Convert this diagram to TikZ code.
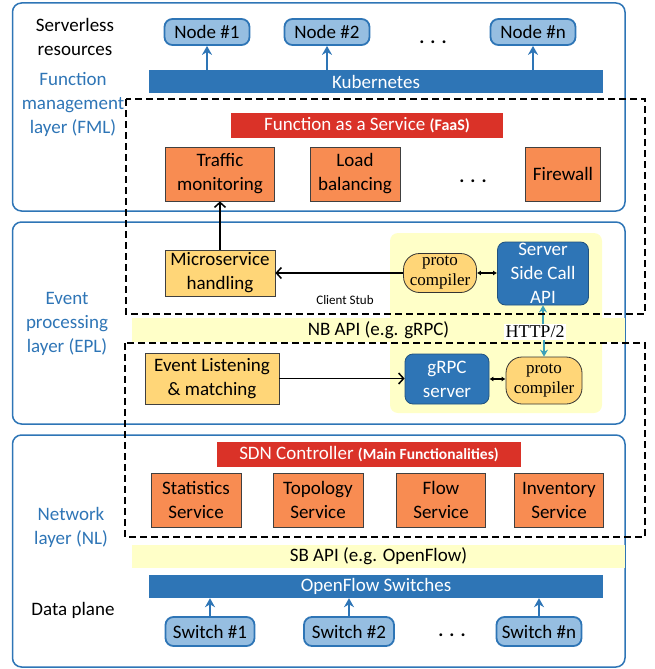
\documentclass[tikz,border=0pt]{standalone}
\usepackage{fontspec}
\setmainfont{Carlito}
\newfontfamily\tms{Liberation Serif}
\usetikzlibrary{arrows.meta}
\definecolor{layerblue}{RGB}{46,117,182}
\definecolor{pillblue}{RGB}{150,190,225}
\definecolor{faasred}{RGB}{218,50,40}
\definecolor{svcorange}{RGB}{248,140,82}
\definecolor{msorange}{RGB}{255,214,120}
\definecolor{palyellow}{RGB}{255,255,200}
\definecolor{httpteal}{RGB}{60,160,185}

\begin{document}
\begin{tikzpicture}[x=1pt,y=-1pt,
  layer/.style={draw=layerblue,line width=1.5pt,rounded corners=9pt},
  dashbox/.style={draw=black,line width=1.8pt,dash pattern=on 7pt off 4pt},
  pill/.style={draw=layerblue,fill=pillblue,line width=1.8pt,rounded corners=8pt,minimum height=26,minimum width=85,inner sep=0},
  bluebar/.style={fill=layerblue,text=white,minimum width=454,minimum height=23,inner sep=0},
  redbar/.style={fill=faasred,text=white,minimum height=25,inner sep=0},
  band/.style={fill=palyellow,minimum width=493,minimum height=24,inner sep=0},
  svc/.style={draw=black!75,fill=svcorange,line width=0.8pt,minimum height=54,align=center,inner sep=0},
  handler/.style={draw=black!75,fill=msorange,line width=0.8pt,align=center,inner sep=0},
  proto/.style={draw=black!80,fill=msorange,line width=0.8pt,rounded corners=16pt,align=center,inner sep=0,font=\tms\fontsize{17}{20}\selectfont},
  rpc/.style={draw=layerblue!70!black,fill=layerblue,text=white,line width=0.8pt,rounded corners=8pt,align=center,inner sep=0},
  side/.style={text=layerblue,align=center},
  uparr/.style={draw=layerblue,line width=2pt,-{Stealth[length=9pt,width=10pt]}},
  blk/.style={draw=black,line width=1.5pt,-{Straight Barb[length=5pt,width=11pt]}},
  dbl/.style={draw=black,line width=1.2pt,{Latex[length=4pt,width=5pt]}-{Latex[length=4pt,width=5pt]}},
  tealarr/.style={draw=httpteal,line width=1.8pt,-{Stealth[length=7pt,width=8pt]}}]
\fontsize{19}{24}\selectfont
\useasboundingbox (0,0) rectangle (654,669);

% layers
\draw[layer] (12.5,3) rectangle (625,211);
\draw[layer] (12.5,222) rectangle (625,424);
\draw[layer] (12.5,435) rectangle (625,667);
\fill[palyellow,rounded corners=8pt] (390,233) rectangle (602,413);

% serverless resources + FML
\node[align=center] (srvl) at (75,37) {Serverless\\resources};
\node[side] (fml) at (73,104) {Function\\management\\layer (FML)};
\node[pill] (n1) at (207,32) {Node \#1};
\node[pill] (n2) at (327,32) {Node \#2};
\node[pill] (nn) at (533,32) {Node \#n};
\node[anchor=base] (ndots) at (433,44) {\bfseries .\hspace{6pt}.\hspace{6pt}.};
\node[bluebar] (kube) at (376,81.5) {Kubernetes};
\draw[uparr] (n1 |- kube.north) -- (n1.south);
\draw[uparr] (n2 |- kube.north) -- (n2.south);
\draw[uparr] (nn |- kube.north) -- (nn.south);
\node[redbar,minimum width=272] (faas) at (367,125) {Function as a Service {\fontsize{16}{18}\selectfont\bfseries(FaaS)}};
\node[svc,minimum width=109] (traffic) at (220,174) {Traffic\\monitoring};
\node[svc,minimum width=90] (load) at (355,174) {Load\\balancing};
\node[anchor=base] (fdots) at (473,182) {\bfseries .\hspace{6pt}.\hspace{6pt}.};
\node[svc,minimum width=75] (fw) at (563,174) {Firewall};

% EPL
\node[side] (epl) at (67,324) {Event\\processing\\layer (EPL)};
\node[band] (nbapi) at (378.5,330) {NB API (e.g. gRPC)};
\node[handler,minimum width=110,minimum height=46] (ms) at (220,273) {Microservice\\handling};
\node[proto,minimum width=73,minimum height=39] (proto1) at (440,273) {proto\\compiler};
\node[rpc,minimum width=91,minimum height=63] (server) at (543,273.5) {Server\\Side Call\\API};
\node[font=\fontsize{13}{15}\selectfont] (stub) at (345,300) {Client Stub};
\node[handler,minimum width=134,minimum height=51] (ev) at (212,378.5) {Event Listening\\\& matching};
\node[rpc,minimum width=84,minimum height=50] (grpc) at (447,379) {gRPC\\server};
\node[proto,minimum width=76,minimum height=47] (proto2) at (544,380.5) {proto\\compiler};
\node[fill=white,inner sep=1.5pt,font=\tms\fontsize{18}{20}\selectfont] (http) at (535,332) {HTTP/2};
\draw[blk] (ms.north) -- (traffic.south);
\draw[blk] (proto1.west) -- (ms.east);
\draw[blk] (ev.east) -- (ev.east -| grpc.west);
\draw[dbl] (proto1.east) -- (server.west |- proto1.east);
\draw[dbl] (grpc.east) -- (proto2.west |- grpc.east);
\draw[tealarr] (server.south |- http.north) -- (server.south);
\draw[tealarr] (proto2.north |- http.south) -- (proto2.north);

% NL + data plane
\node[side] (nl) at (71,527) {Network\\layer (NL)};
\node[redbar,minimum width=304] (sdn) at (369,454.5) {SDN Controller {\fontsize{15.5}{17}\selectfont\bfseries(Main Functionalities)}};
\node[svc,minimum width=90] (stat) at (196,500) {Statistics\\Service};
\node[svc,minimum width=90] (topo) at (318,500) {Topology\\Service};
\node[svc,minimum width=89] (flow) at (441,500) {Flow\\Service};
\node[svc,minimum width=89] (inv) at (559,500) {Inventory\\Service};
\node[band,minimum height=23] (sbapi) at (378.5,556.5) {SB API (e.g. OpenFlow)};
\node[bluebar] (ofs) at (376,586.5) {OpenFlow Switches};
\node (dp) at (73,610) {Data plane};
\node[pill,minimum width=89,minimum height=29] (s1) at (210,631.5) {Switch \#1};
\node[pill,minimum width=90,minimum height=29] (s2) at (349,631.5) {Switch \#2};
\node[pill,minimum width=85,minimum height=29] (sn) at (539,631.5) {Switch \#n};
\node[anchor=base] (sdots) at (452,636) {\bfseries .\hspace{6pt}.\hspace{6pt}.};
\draw[uparr] (s1.north) -- (s1.north |- ofs.south);
\draw[uparr] (s2.north) -- (s2.north |- ofs.south);
\draw[uparr] (sn.north) -- (sn.north |- ofs.south);

% dashed groups
\draw[dashbox] (126,99) rectangle (645,314);
\draw[dashbox] (125,343) rectangle (645,537);

\end{tikzpicture}
\end{document}
